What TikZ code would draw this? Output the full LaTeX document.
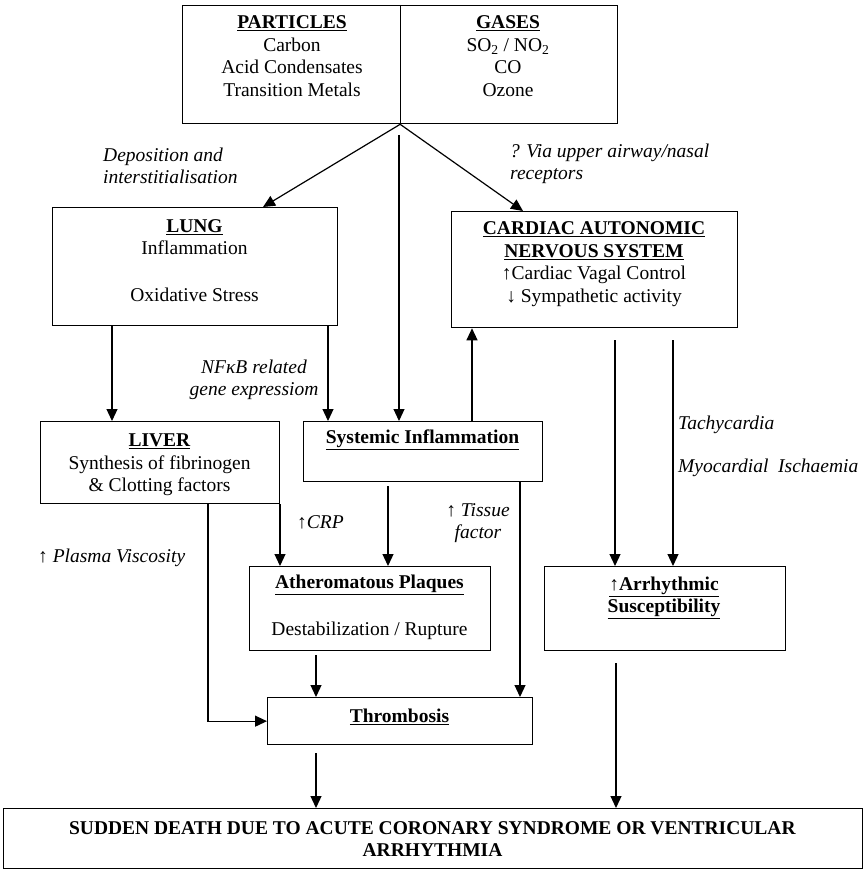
\documentclass[tikz,border=0pt]{standalone}
\usepackage{fontspec}
\setmainfont{Liberation Serif}
\usetikzlibrary{arrows.meta}
\newcommand\fsz{\fontsize{19.5}{22.5}\selectfont}
\newcommand\ub[1]{\underline{\textbf{#1}}}
\begin{document}
\begin{tikzpicture}[x=1pt,y=-1pt,
  box/.style={draw, line width=1.3pt, inner sep=0pt, anchor=north west},
  txt/.style={inner sep=0pt, font=\fsz, align=center},
  lbl/.style={inner sep=0pt, font=\fsz\itshape, align=left},
  arr/.style={-{Triangle[length=12pt,width=11pt]}, line width=1.2pt},
  ln/.style={line width=1.2pt}]
\useasboundingbox (0,0) rectangle (865,869);
% boxes
\node[box, minimum width=435pt, minimum height=118pt] (top) at (182,5) {};
\node[box, minimum width=285pt, minimum height=118pt] (lung) at (52,207) {};
\node[box, minimum width=286pt, minimum height=116pt] (cans) at (451,211) {};
\node[box, minimum width=239pt, minimum height=82pt] (liver) at (40,421) {};
\node[box, minimum width=239pt, minimum height=60pt] (sys) at (303,421) {};
\node[box, minimum width=241pt, minimum height=84pt] (ath) at (249,566) {};
\node[box, minimum width=241pt, minimum height=84pt] (arr) at (544,566) {};
\node[box, minimum width=265pt, minimum height=47pt] (thr) at (267,697) {};
\node[box, minimum width=859pt, minimum height=60pt] (death) at (3,808) {};
\draw[line width=1.3pt] (top.north) -- (top.south);
% texts
\node[txt] (partT) at (292,56) {\ub{PARTICLES}\\Carbon\\Acid Condensates\\Transition Metals};
\node[txt] (gasT) at (508,56) {\ub{GASES}\\SO\textsubscript{2} / NO\textsubscript{2}\\CO\\Ozone};
\node[txt] (lungT) at (194.5,237) {\ub{LUNG}\\Inflammation};
\node[txt] (lungT2) at (194.5,295) {Oxidative Stress};
\node[txt] (cansT) at (594,264) {\ub{CARDIAC AUTONOMIC}\\\ub{NERVOUS SYSTEM}\\↑Cardiac Vagal Control\\↓ Sympathetic activity};
\node[txt] (liverT) at (159.5,465) {\ub{LIVER}\\Synthesis of fibrinogen\\\& Clotting factors};
\node[txt] (sysT) at (422.5,440) {\ub{Systemic Inflammation}};
\node[txt] (athT) at (369.5,585) {\ub{Atheromatous Plaques}};
\node[txt] (athT2) at (369.5,631) {Destabilization / Rupture};
\node[txt] (arrT) at (664,598) {\ub{↑Arrhythmic}\\\ub{Susceptibility}};
\node[txt] (thrT) at (399.5,717) {\ub{Thrombosis}};
\node[txt] (deathT) at (432.5,839) {\textbf{SUDDEN DEATH DUE TO ACUTE CORONARY SYNDROME OR VENTRICULAR}\\\textbf{ARRHYTHMIA}};
% labels
\node[lbl, anchor=west] (depL) at (103,166) {Deposition and\\interstitialisation};
\node[lbl, anchor=west] (viaL) at (510,164) {? Via upper airway/nasal\\receptors};
\node[txt, font=\fsz\itshape] (nfL) at (254,380) {NFκB related\\gene expressiom};
\node[lbl, anchor=west] (crpL) at (297,522) {↑CRP};
\node[txt, font=\fsz\itshape] (tisL) at (478,523) {↑ Tissue\\factor};
\node[lbl, anchor=west] (plL) at (38,558) {↑ Plasma Viscosity};
\node[lbl, anchor=west] (tacL) at (678,425) {Tachycardia};
\node[lbl, anchor=west] (myoL) at (678,468) {Myocardial\ \ Ischaemia};
% x positions
\coordinate (xa) at (263,0);
\coordinate (xb) at (523,0);
\coordinate (xc) at (399,135);
\coordinate (xd) at (112,0);
\coordinate (xe) at (328,0);
\coordinate (xf) at (472,0);
\coordinate (xg) at (615,0);
\coordinate (xh) at (673,0);
\coordinate (xi) at (388,0);
\coordinate (xj) at (520,0);
\coordinate (xk) at (280,0);
\coordinate (xl) at (208,0);
\coordinate (xm) at (316,0);
\coordinate (xn) at (616,0);
% connectors
\draw[arr] (top.south) -- (lung.north -| xa);
\draw[arr] (top.south) -- (cans.north -| xb);
\draw[arr] (xc) -- (sys.north -| xc);
\draw[arr] (lung.south -| xd) -- (liver.north -| xd);
\draw[arr] (lung.south -| xe) -- (sys.north -| xe);
\draw[arr] (sys.north -| xf) -- (cans.south -| xf);
\draw[arr, shorten <=12pt] (cans.south -| xg) -- (arr.north -| xg);
\draw[arr, shorten <=12pt] (cans.south -| xh) -- (arr.north -| xh);
\draw[arr, shorten <=4pt] (sys.south -| xi) -- (ath.north -| xi);
\draw[arr] (sys.south -| xj) -- (thr.north -| xj);
\draw[arr] (liver.south -| xk) -- (ath.north -| xk);
\draw[arr] (liver.south -| xl) |- (thr.west);
\draw[arr, shorten <=4pt] (ath.south -| xm) -- (thr.north -| xm);
\draw[arr, shorten <=8pt] (thr.south -| xm) -- (death.north -| xm);
\draw[arr, shorten <=12pt] (arr.south -| xn) -- (death.north -| xn);
\end{tikzpicture}
\end{document}
